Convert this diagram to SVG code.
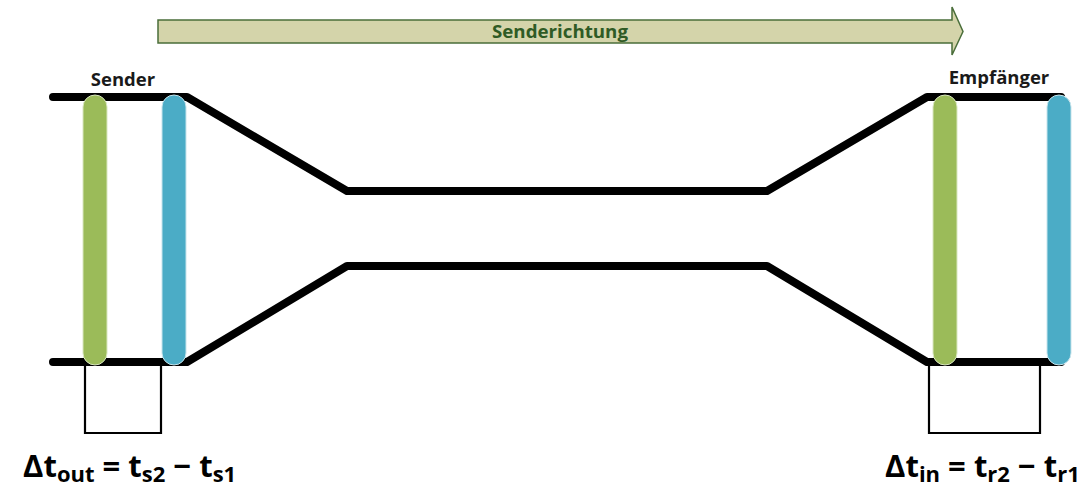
<svg xmlns="http://www.w3.org/2000/svg" width="1091" height="498" viewBox="0 0 1091 498">
  <style>
    .wire { fill: none; stroke: #000; stroke-width: 8; stroke-linecap: round; stroke-linejoin: round; }
    .bracket { fill: none; stroke: #000; stroke-width: 2.2; }
    .green { fill: #9bbb59; stroke: #d9e6c0; stroke-width: 1; }
    .blue { fill: #4bacc6; stroke: #c7e4ec; stroke-width: 1; }
    .label { font-family: "Open Sans", "Liberation Sans", sans-serif; font-weight: bold; fill: #1a1a1a; }
    .formula { font-family: "Open Sans", "Liberation Sans", sans-serif; font-weight: bold; fill: #000; }
  </style>
  <rect width="1091" height="498" fill="#fff"/>
  <g id="direction-arrow">
    <polygon points="158,20 952,20 952,7 963,31.5 952,55 952,43 158,43" fill="#d4d4aa" stroke="#4a6e3a" stroke-width="1.5" stroke-linejoin="miter"/>
    <text x="560" y="38" text-anchor="middle" font-family="Open Sans, Liberation Sans, sans-serif" font-weight="bold" font-size="17" fill="#2f5b25" textLength="136" lengthAdjust="spacingAndGlyphs">Senderichtung</text>
  </g>
  <g id="connectors">
    <polyline class="wire" points="53,97 187,97 347,191 767,191 927,97 1061,97"/>
    <polyline class="wire" points="53,362 187,362 347,266 767,266 927,362 1061,362"/>
    <polyline class="bracket" points="85,365 85,433 161,433 161,365"/>
    <polyline class="bracket" points="929,365 929,433 1040,433 1040,365"/>
  </g>
  <g id="sender">
    <text class="label" x="123" y="86" text-anchor="middle" font-size="18.5">Sender</text>
    <rect class="green" x="83" y="95" width="24" height="270" rx="12" ry="12"/>
    <rect class="blue" x="162" y="95" width="24" height="270" rx="12" ry="12"/>
  </g>
  <g id="empfaenger">
    <text class="label" x="999" y="84" text-anchor="middle" font-size="18.5">Empfänger</text>
    <rect class="green" x="933" y="95" width="24" height="270" rx="12" ry="12"/>
    <rect class="blue" x="1047" y="95" width="24" height="270" rx="12" ry="12"/>
  </g>
  <g id="formula-out">
    <text class="formula" x="23" y="477" font-size="31">Δt<tspan font-size="22" dy="5">out</tspan><tspan dy="-5"> = t</tspan><tspan font-size="22" dy="5">s2</tspan><tspan dy="-5"> − t</tspan><tspan font-size="22" dy="5">s1</tspan></text>
  </g>
  <g id="formula-in">
    <text class="formula" x="885" y="477" font-size="31">Δt<tspan font-size="22" dy="5">in</tspan><tspan dy="-5"> = t</tspan><tspan font-size="22" dy="5">r2</tspan><tspan dy="-5"> − t</tspan><tspan font-size="22" dy="5">r1</tspan></text>
  </g>
</svg>
